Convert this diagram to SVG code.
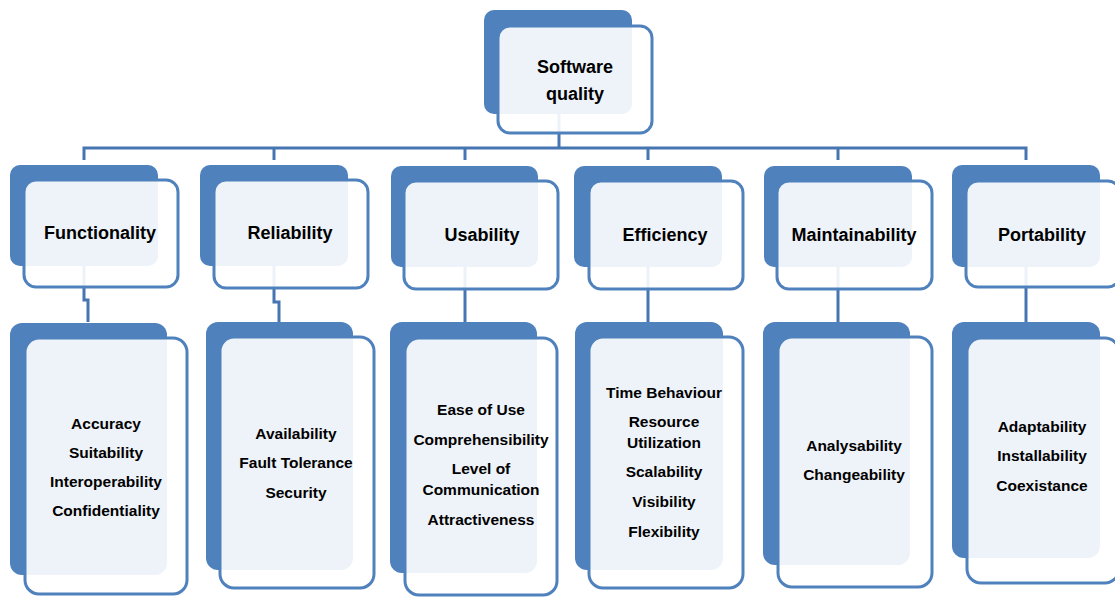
<svg xmlns="http://www.w3.org/2000/svg" width="1115" height="597" viewBox="0 0 1115 597">
<style>
.back{fill:#4f81bd}
.front{fill:#ffffff;fill-opacity:0.9;stroke:#4f81bd;stroke-width:3}
.conn{fill:none;stroke:#4676b2;stroke-width:3}
.t1{font-family:"Liberation Sans",Arial,sans-serif;font-weight:bold;font-size:18px;fill:#000;text-anchor:middle}
.t2{font-family:"Liberation Sans",Arial,sans-serif;font-weight:bold;font-size:15.5px;fill:#000;text-anchor:middle}
</style>
<rect width="1115" height="597" fill="#ffffff"/>
<g id="connectors">
<path class="conn" d="M559 112 V148"/>
<path class="conn" d="M84 160 V148 H1026 V160"/>
<path class="conn" d="M274 148 V160"/>
<path class="conn" d="M465 148 V160"/>
<path class="conn" d="M648 148 V160"/>
<path class="conn" d="M838 148 V160"/>
<path class="conn" d="M84 266 V300 H88 V322"/>
<path class="conn" d="M274 266 V302 H279 V322"/>
<path class="conn" d="M465 266 V322"/>
<path class="conn" d="M648 266 V322"/>
<path class="conn" d="M838 266 V322"/>
<path class="conn" d="M1026 266 V322"/>
</g>
<g id="software-quality">
<rect class="back" x="484" y="10" width="148" height="104" rx="10"/>
<rect class="front" x="498" y="26" width="154" height="107" rx="12"/>
<text class="t1" x="575" y="73">Software</text>
<text class="t1" x="575" y="100">quality</text>
</g>
<g id="functionality">
<rect class="back" x="10" y="165" width="148" height="101" rx="10"/>
<rect class="front" x="24" y="180" width="154" height="107" rx="12"/>
<text class="t1" x="100" y="239">Functionality</text>
</g>
<g id="reliability">
<rect class="back" x="200" y="165" width="148" height="101" rx="10"/>
<rect class="front" x="214" y="180" width="154" height="108" rx="12"/>
<text class="t1" x="290" y="239">Reliability</text>
</g>
<g id="usability">
<rect class="back" x="391" y="166" width="147" height="101" rx="10"/>
<rect class="front" x="404" y="181" width="154" height="108" rx="12"/>
<text class="t1" x="482" y="241">Usability</text>
</g>
<g id="efficiency">
<rect class="back" x="574" y="166" width="148" height="101" rx="10"/>
<rect class="front" x="589" y="181" width="154" height="108" rx="12"/>
<text class="t1" x="665" y="241">Efficiency</text>
</g>
<g id="maintainability">
<rect class="back" x="764" y="166" width="148" height="101" rx="10"/>
<rect class="front" x="777" y="181" width="155" height="108" rx="12"/>
<text class="t1" x="854" y="241">Maintainability</text>
</g>
<g id="portability">
<rect class="back" x="952" y="165" width="148" height="102" rx="10"/>
<rect class="front" x="966" y="181" width="154" height="106" rx="12"/>
<text class="t1" x="1042" y="241">Portability</text>
</g>
<g id="functionality-attrs">
<rect class="back" x="10" y="323" width="157" height="252" rx="12"/>
<rect class="front" x="25" y="338" width="162" height="256" rx="14"/>
<text class="t2" x="106" y="429">Accuracy</text>
<text class="t2" x="106" y="458">Suitability</text>
<text class="t2" x="106" y="487">Interoperability</text>
<text class="t2" x="106" y="516">Confidentiality</text>
</g>
<g id="reliability-attrs">
<rect class="back" x="206" y="322" width="147" height="248" rx="12"/>
<rect class="front" x="220" y="337" width="154" height="251" rx="14"/>
<text class="t2" x="296" y="439">Availability</text>
<text class="t2" x="296" y="468">Fault Tolerance</text>
<text class="t2" x="296" y="498">Security</text>
</g>
<g id="usability-attrs">
<rect class="back" x="390" y="322" width="147" height="251" rx="12"/>
<rect class="front" x="405" y="338" width="152" height="257" rx="14"/>
<text class="t2" x="481" y="415">Ease of Use</text>
<text class="t2" x="481" y="445">Comprehensibility</text>
<text class="t2" x="481" y="474">Level of</text>
<text class="t2" x="481" y="495">Communication</text>
<text class="t2" x="481" y="525">Attractiveness</text>
</g>
<g id="efficiency-attrs">
<rect class="back" x="575" y="322" width="148" height="248" rx="12"/>
<rect class="front" x="589" y="337" width="154" height="251" rx="14"/>
<text class="t2" x="664" y="398">Time Behaviour</text>
<text class="t2" x="664" y="427">Resource</text>
<text class="t2" x="664" y="448">Utilization</text>
<text class="t2" x="664" y="477">Scalability</text>
<text class="t2" x="664" y="507">Visibility</text>
<text class="t2" x="664" y="537">Flexibility</text>
</g>
<g id="maintainability-attrs">
<rect class="back" x="763" y="322" width="147" height="243" rx="12"/>
<rect class="front" x="778" y="337" width="154" height="250" rx="14"/>
<text class="t2" x="854" y="451">Analysability</text>
<text class="t2" x="854" y="480">Changeability</text>
</g>
<g id="portability-attrs">
<rect class="back" x="952" y="322" width="148" height="236" rx="12"/>
<rect class="front" x="967" y="338" width="152" height="245" rx="14"/>
<text class="t2" x="1042" y="432">Adaptability</text>
<text class="t2" x="1042" y="461">Installability</text>
<text class="t2" x="1042" y="491">Coexistance</text>
</g>
</svg>
